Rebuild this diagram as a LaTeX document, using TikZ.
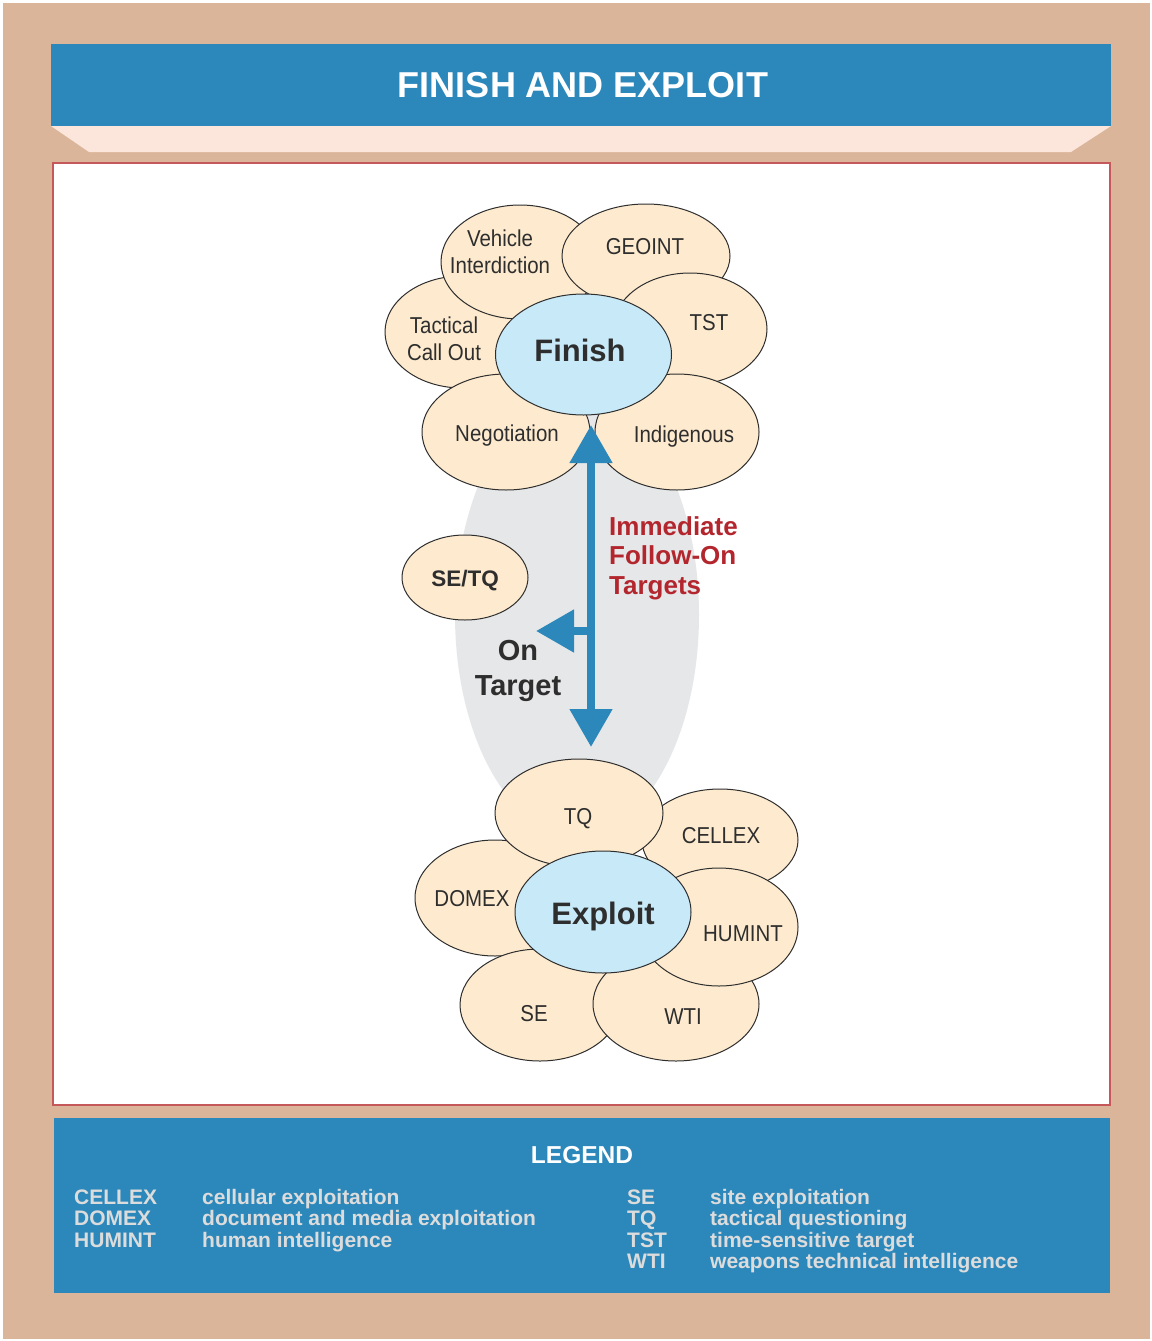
\documentclass[tikz,border=0pt]{standalone}
\usepackage{fontspec}
\setmainfont{Liberation Sans}
\newfontfamily\condfont{Liberation Sans}[FakeStretch=0.89]
\usetikzlibrary{shapes.geometric,arrows.meta}

\definecolor{tanbg}{HTML}{DAB59A}
\definecolor{bandblue}{HTML}{2C88BA}
\definecolor{shelf}{HTML}{FCE6DC}
\definecolor{panelred}{HTML}{C5585A}
\definecolor{petalfill}{HTML}{FEEBCF}
\definecolor{corefill}{HTML}{C8E9F8}
\definecolor{haze}{HTML}{E6E7E8}
\definecolor{targetred}{HTML}{B3262E}
\definecolor{ink}{HTML}{2E2E2E}
\definecolor{legendgray}{HTML}{DCDCDC}

\tikzset{
  petal/.style={ellipse, draw=ink, line width=1pt, fill=petalfill, inner sep=0pt},
  core/.style={petal, fill=corefill},
  petaltext/.style={anchor=base, inner sep=0pt, text=ink, align=center,
    font=\condfont\fontsize{23}{26.5}\selectfont},
  coretext/.style={anchor=base, inner sep=0pt, text=ink,
    font=\bfseries\fontsize{31}{36}\selectfont},
  flow/.style={draw=bandblue, line width=8pt},
  flowtip/.tip={Triangle[length=38pt,width=41pt]},
  legendtext/.style={anchor=base west, inner sep=0pt, text=legendgray, align=left,
    font=\bfseries\fontsize{21}{21.5}\selectfont},
}

\begin{document}
\begin{tikzpicture}[x=1pt,y=-1pt]
  \useasboundingbox (0,0) rectangle (1151,1341);
  \fill[white] (0,0) rectangle (1151,1341);
  \fill[tanbg] (3,3) rectangle (1150,1339);

  % title
  \fill[bandblue] (51,44) rectangle (1111,126);
  \fill[shelf] (51,126) -- (1111,126) -- (1071,152) -- (89,152) -- cycle;
  \node[anchor=base, inner sep=0pt, text=white, font=\bfseries\fontsize{36}{40}\selectfont]
    (title) at (583,97) {FINISH AND EXPLOIT};

  % panel
  \draw[panelred, line width=1.5pt, fill=white] (53,163) rectangle (1110,1105);
  \node[ellipse, fill=haze, inner sep=0pt, minimum width=244pt, minimum height=440pt]
    (haze) at (577,615) {};

  % finish
  \node[petal, minimum width=154pt, minimum height=112pt] (tactical) at (462,332) {};
  \node[petal, minimum width=158pt, minimum height=114pt] (vehicle) at (520,262) {};
  \node[petal, minimum width=168pt, minimum height=104pt] (geoint) at (646,256) {};
  \node[petal, minimum width=154pt, minimum height=112pt] (tst) at (690,329) {};
  \node[petal, minimum width=168pt, minimum height=116pt] (negotiation) at (506,432) {};
  \node[petal, minimum width=164pt, minimum height=116pt] (indigenous) at (677,432) {};
  \node[core, minimum width=176pt, minimum height=121pt] (finish) at (583.5,354.5) {};

  \node[petaltext] (vehicle-txt) at (500,273) {Vehicle\\Interdiction};
  \node[petaltext] (geoint-txt) at (645,254) {GEOINT};
  \node[petaltext] (tst-txt) at (709,330) {TST};
  \node[petaltext] (tactical-txt) at (444,360) {Tactical\\Call Out};
  \node[petaltext] (negotiation-txt) at (507,441) {Negotiation};
  \node[petaltext] (indigenous-txt) at (684,442) {Indigenous};
  \node[coretext] (finish-txt) at (580,361) {Finish};

  % exploit
  \node[petal, minimum width=160pt, minimum height=116pt] (domex) at (495,898) {};
  \node[petal, minimum width=156pt, minimum height=102pt] (cellex) at (720,840) {};
  \node[petal, minimum width=168pt, minimum height=108pt] (tq) at (579,813) {};
  \node[petal, minimum width=160pt, minimum height=112pt] (se) at (540,1005) {};
  \node[petal, minimum width=166pt, minimum height=114pt] (wti) at (676,1004) {};
  \node[petal, minimum width=158pt, minimum height=118pt] (humint) at (719,927) {};
  \node[core, minimum width=176pt, minimum height=122pt] (exploit) at (603,912) {};

  \node[petaltext] (tq-txt) at (578,824) {TQ};
  \node[petaltext] (cellex-txt) at (721,843) {CELLEX};
  \node[petaltext] (domex-txt) at (472,906) {DOMEX};
  \node[petaltext] (humint-txt) at (743,941) {HUMINT};
  \node[petaltext] (se-txt) at (534,1021) {SE};
  \node[petaltext] (wti-txt) at (683,1024) {WTI};
  \node[coretext] (exploit-txt) at (603,924.5) {Exploit};

  % on target
  \node[petal, minimum width=126pt, minimum height=85pt] (setq) at (465,577.5) {};
  \node[anchor=base, inner sep=0pt, text=ink, font=\bfseries\fontsize{22.5}{26}\selectfont]
    (setq-txt) at (465,586) {SE/TQ};

  \coordinate (uptip) at (591,425);
  \coordinate (downtip) at (591,747);
  \coordinate (fork) at (591,631);
  \coordinate (lefttip) at (536,631);
  \draw[flow, flowtip-flowtip] (downtip) -- (uptip);
  \draw[flow, -flowtip] (fork) -- (lefttip);

  \node[anchor=base, inner sep=0pt, text=ink, align=center,
    font=\bfseries\fontsize{29}{35}\selectfont] (ontarget) at (518,695) {On\\Target};
  \node[anchor=base west, inner sep=0pt, text=targetred, align=left,
    font=\bfseries\fontsize{26}{29.5}\selectfont] (followon) at (609,594)
    {Immediate\\Follow-On\\Targets};

  % legend
  \fill[bandblue] (54,1118) rectangle (1110,1293);
  \node[anchor=base, inner sep=0pt, text=white, font=\bfseries\fontsize{24.5}{28}\selectfont]
    (legend) at (582,1163) {LEGEND};
  \node[legendtext] (abbr-l) at (74,1247) {CELLEX\\DOMEX\\HUMINT};
  \node[legendtext] (desc-l) at (202,1247) {cellular exploitation\\document and media exploitation\\human intelligence};
  \node[legendtext] (abbr-r) at (627,1268.5) {SE\\TQ\\TST\\WTI};
  \node[legendtext] (desc-r) at (710,1268.5) {site exploitation\\tactical questioning\\time-sensitive target\\weapons technical intelligence};
\end{tikzpicture}
\end{document}
